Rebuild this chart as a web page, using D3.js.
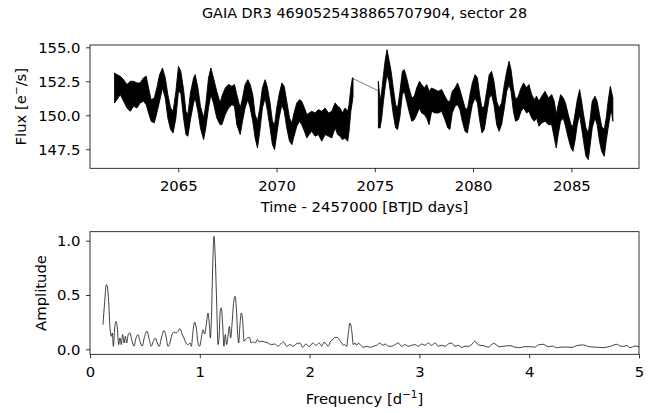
<!DOCTYPE html>
<html><head><meta charset="utf-8">
<script src="https://cdn.jsdelivr.net/npm/d3@7"></script>
<style>
body{margin:0;background:#fff}
svg{display:block}
text{font-family:"DejaVu Sans",sans-serif;fill:#000}
</style></head>
<body><svg id="c" width="660" height="413"></svg>
<script>
// ---------- light curve (band: upper / lower envelope) ----------
const lcTime=[2061.76,2061.88,2062.05,2062.22,2062.39,2062.56,2062.73,2062.90,2063.06,2063.23,2063.37,2063.49,2063.62,2063.78,2063.91,2064.05,2064.20,2064.34,2064.47,2064.61,2064.74,2064.88,2065.01,2065.13,2065.27,2065.39,2065.49,2065.62,2065.78,2065.86,2066.00,2066.13,2066.29,2066.40,2066.54,2066.66,2066.79,2066.96,2067.13,
2067.22,2067.39,2067.56,2067.73,2067.86,2067.98,2068.15,2068.27,2068.40,2068.54,2068.66,2068.79,2068.91,2069.03,2069.15,2069.28,2069.42,2069.54,2069.67,2069.79,2069.90,2070.01,2070.13,2070.27,2070.39,2070.52,2070.66,2070.78,2070.89,2071.03,2071.17,2071.28,2071.42,2071.54,2071.66,2071.79,2071.96,2072.13,2072.30,2072.47,2072.64,2072.81,
2072.98,2073.11,2073.23,2073.35,2073.49,2073.62,2073.69,2073.78,2073.86,2073.89,
2075.18,2075.27,2075.35,2075.44,2075.52,2075.62,2075.72,2075.83,2075.94,2076.06,2076.16,2076.28,2076.40,2076.50,2076.62,2076.74,2076.88,2077.01,2077.13,2077.27,2077.38,2077.52,2077.64,2077.76,2077.89,2078.06,2078.23,2078.40,
2078.57,2078.71,2078.82,2078.94,2079.08,2079.21,2079.33,2079.45,2079.59,2079.71,2079.84,2079.96,2080.10,2080.22,2080.33,2080.45,2080.57,2080.69,2080.82,2080.94,2081.06,2081.20,2081.32,2081.45,2081.59,2081.71,2081.83,2081.93,2082.05,2082.16,2082.30,2082.44,2082.57,2082.72,2082.84,2082.98,2083.11,2083.23,2083.35,2083.49,2083.66,2083.83,2084.00,
2084.13,2084.23,2084.33,2084.45,2084.59,2084.70,2084.84,2084.98,2085.08,2085.18,2085.30,2085.42,2085.52,2085.62,2085.74,2085.86,2085.96,2086.06,2086.20,2086.31,2086.43,2086.54,2086.67,2086.77,2086.87,2086.98,2087.04,2087.11];
const lcHigh=[153.11,152.99,152.87,152.62,152.26,152.50,152.50,152.38,152.38,152.75,152.87,152.01,151.15,151.27,152.01,152.99,153.48,152.75,151.52,150.54,150.29,151.76,153.60,153.23,151.89,150.29,150.05,151.64,152.75,152.99,152.01,150.66,149.80,150.78,152.75,153.48,152.75,151.76,150.91,
151.40,152.01,152.26,152.13,152.26,151.52,150.54,151.27,152.26,152.62,152.26,151.52,150.05,149.56,150.54,152.01,152.62,152.01,150.91,149.56,149.31,150.54,151.52,152.38,152.13,151.03,149.80,149.44,150.17,150.91,151.15,151.03,150.54,150.05,150.17,150.29,150.17,150.42,150.29,150.54,150.17,150.29,
150.91,150.66,150.54,150.17,150.54,150.29,150.78,152.01,152.75,152.75,
152.50,151.03,151.76,152.99,153.97,154.83,154.09,153.23,152.01,150.78,150.54,151.76,153.23,153.36,152.75,152.01,151.27,151.40,152.01,152.50,152.26,152.01,152.26,151.76,152.01,151.89,151.76,151.89,
151.40,151.03,151.03,151.76,152.01,152.38,151.89,151.27,150.54,150.42,151.52,152.38,152.99,152.75,151.52,150.54,150.66,151.76,152.99,153.23,152.50,151.03,150.54,150.91,152.26,153.23,153.97,153.36,152.01,151.15,151.40,152.01,152.38,152.01,152.26,151.52,151.15,151.40,151.03,151.40,151.76,151.27,151.52,
151.03,150.05,150.78,151.52,151.27,150.91,150.05,149.31,149.19,150.05,151.15,151.89,151.03,150.05,149.07,148.70,149.80,151.03,151.40,151.03,150.05,149.19,148.95,149.80,151.03,152.13,151.76,151.27];
const lcLow=[150.91,151.15,151.52,151.03,150.54,150.29,150.66,150.54,150.91,151.03,150.78,150.17,149.56,149.44,150.17,151.03,152.01,151.27,149.80,148.95,148.70,149.80,151.76,151.64,149.80,148.58,148.46,149.68,150.91,151.27,150.29,149.07,148.21,149.07,150.54,151.52,150.91,149.80,149.31,
149.31,150.05,150.54,150.78,150.66,149.31,148.58,149.56,150.54,151.15,150.54,149.56,148.33,147.60,148.82,150.54,151.27,150.29,149.07,147.84,147.47,148.58,149.80,150.78,150.29,149.07,148.09,147.84,148.46,149.19,149.56,149.31,148.82,148.33,148.58,148.82,148.46,148.58,148.09,148.58,148.46,148.33,
149.07,148.58,148.46,148.21,148.33,148.09,148.82,150.29,151.03,151.40,
149.07,149.07,149.80,151.03,152.01,152.99,152.50,151.27,150.05,149.07,148.95,149.93,151.52,151.76,151.03,150.29,149.56,149.68,150.05,150.54,150.17,150.05,149.80,149.31,150.29,150.17,150.17,150.29,
149.68,149.07,148.95,150.17,150.66,150.78,150.42,149.56,148.82,148.70,149.80,150.78,151.27,150.91,149.68,148.70,148.95,150.05,151.27,151.52,150.78,149.31,148.82,149.31,150.54,151.76,152.26,151.76,150.29,149.56,149.68,150.29,150.54,150.17,150.29,149.80,149.56,149.80,149.19,149.44,149.56,149.31,149.31,
148.33,147.60,148.58,149.56,149.80,149.19,148.33,147.60,147.35,148.09,149.31,150.05,149.07,148.09,146.98,146.74,147.84,149.07,149.80,149.31,148.09,147.35,146.98,148.09,149.07,150.05,150.29,149.56];
// straight segment drawn across the data gap
const gapTime=[2073.89,2075.18];
const gapFlux=[152.70,151.80];
const lcXTicks=[2065,2070,2075,2080,2085];
const lcYTicks=[147.5,150.0,152.5,155.0];

// ---------- periodogram ----------
const pgFreq=[0.118,0.134,0.149,0.158,0.170,0.182,0.194,0.203,0.213,0.225,0.237,0.249,0.261,0.273,0.285,0.297,0.310,0.322,0.334,0.349,0.364,0.383,0.401,0.419,0.437,0.455,0.474,0.498,0.519,0.540,0.558,0.577,0.595,0.613,0.631,0.650,0.674,0.692,0.710,0.728,0.747,0.765,0.783,0.801,0.820,0.838,0.856,0.874,0.892,0.911,0.923,0.938,0.953,0.968,0.984,0.999,1.014,1.029,1.044,1.059,1.075,1.087,1.096,1.105,1.117,1.129,1.141,1.154,1.166,1.175,1.187,1.196,1.208,1.220,1.232,1.245,1.257,1.269,1.281,1.293,1.309,1.321,1.333,1.345,1.354,1.366,1.378,1.390,1.403,1.415,1.433,1.451,1.469,1.488,1.506,1.524,1.542,1.560,1.591,1.621,1.651,1.682,1.712,
1.730,1.761,1.791,1.821,1.852,1.882,1.912,1.937,1.967,1.998,2.028,2.058,2.088,2.109,2.131,2.149,2.170,2.192,2.210,2.231,2.252,2.271,2.292,2.307,2.319,2.337,2.353,2.368,2.383,2.398,2.413,2.429,2.444,2.465,2.489,2.520,2.550,2.580,2.611,2.641,2.665,2.690,2.717,2.747,2.778,2.808,2.838,2.869,2.899,2.930,2.960,2.990,3.021,3.051,3.081,3.111,3.142,3.172,3.202,3.233,3.263,3.293,3.324,3.354,3.384,3.415,3.445,3.475,3.506,3.527,3.551,3.580,3.630,3.675,3.730,3.780,3.825,3.870,3.916,3.960,4.007,4.050,4.083,4.128,4.174,4.210,4.250,4.300,4.341,4.390,4.432,4.493,4.540,4.584,4.630,4.676,4.736,4.797,4.830,4.857,4.890,4.918,4.964,5.000];
const pgAmp=[0.227,0.44,0.595,0.58,0.44,0.196,0.12,0.15,0.028,0.196,0.257,0.196,0.043,0.104,0.043,0.135,0.058,0.12,0.058,0.141,0.15,0.074,0.028,0.104,0.135,0.074,0.028,0.12,0.166,0.089,0.028,0.074,0.104,0.058,0.028,0.104,0.172,0.12,0.028,0.058,0.135,0.16,0.15,0.166,0.19,0.141,0.104,0.058,0.043,0.058,0.028,0.166,0.25,0.196,0.058,0.028,0.104,0.18,0.141,0.227,0.334,0.227,0.104,0.257,0.748,1.04,0.84,0.41,0.043,0.104,0.365,0.38,0.227,0.028,0.135,0.043,0.12,0.21,0.104,0.227,0.44,0.488,0.38,0.135,0.058,0.227,0.334,0.273,0.074,0.089,0.104,0.11,0.058,0.068,0.058,0.089,0.068,0.074,0.068,0.058,0.043,0.049,0.028,
0.043,0.068,0.028,0.043,0.028,0.052,0.058,0.018,0.049,0.025,0.058,0.037,0.058,0.028,0.064,0.052,0.028,0.074,0.089,0.11,0.11,0.089,0.058,0.037,0.043,0.028,0.15,0.242,0.18,0.043,0.058,0.037,0.058,0.037,0.018,0.028,0.018,0.028,0.037,0.058,0.037,0.049,0.028,0.028,0.043,0.058,0.028,0.043,0.028,0.037,0.043,0.028,0.049,0.037,0.058,0.037,0.058,0.028,0.037,0.028,0.049,0.058,0.028,0.037,0.018,0.028,0.028,0.043,0.074,0.049,0.037,0.034,0.02,0.055,0.024,0.03,0.034,0.02,0.015,0.025,0.024,0.02,0.04,0.046,0.024,0.03,0.015,0.02,0.021,0.018,0.034,0.04,0.025,0.021,0.018,0.015,0.027,0.046,0.03,0.027,0.035,0.015,0.03,0.024];
const pgXTicks=[0,1,2,3,4,5];
const pgYTicks=[0.0,0.5,1.0];

const titleText="GAIA DR3 4690525438865707904, sector 28";

// ---------- layout ----------
const svg=d3.select("#c");
svg.append("rect").attr("width",660).attr("height",413).attr("fill","#fff");
const L=90,R=639;
const top1=45,bot1=168.3,top2=231.7,bot2=354.3;
const FS=14.8;

const x1=d3.scaleLinear().domain([2060.51,2088.44]).range([L,R]);
const y1=d3.scaleLinear().domain([146.10,155.17]).range([bot1,top1]);
const x2=d3.scaleLinear().domain([0,5]).range([L,R]);
const y2=d3.scaleLinear().domain([-0.046,1.083]).range([bot2,top2]);

const defs=svg.append("defs");
defs.append("clipPath").attr("id","cp1").append("rect").attr("x",L).attr("y",top1).attr("width",R-L).attr("height",bot1-top1);
defs.append("clipPath").attr("id","cp2").append("rect").attr("x",L).attr("y",top2).attr("width",R-L).attr("height",bot2-top2);

// light curve: split into contiguous segments at the data gap
const lc=lcTime.map((t,i)=>({t,h:lcHigh[i],l:lcLow[i]}));
const segs=[];let cur=[];
lc.forEach((d,i)=>{ if(i>0 && d.t-lc[i-1].t>0.5){segs.push(cur);cur=[];} cur.push(d);});
segs.push(cur);
const g1=svg.append("g").attr("clip-path","url(#cp1)");
const area=d3.area().x(d=>x1(d.t)).y0(d=>y1(d.l)).y1(d=>y1(d.h));
segs.forEach(s=>{
  g1.append("path").attr("d",area(s)).attr("fill","#000").attr("stroke","#000").attr("stroke-width",0.9).attr("stroke-linejoin","miter");
});
g1.append("path").attr("d",d3.line()(gapTime.map((t,i)=>[x1(t),y1(gapFlux[i])])))
  .attr("fill","none").attr("stroke","#000").attr("stroke-width",0.5);

// periodogram
const g2=svg.append("g").attr("clip-path","url(#cp2)");
g2.append("path").attr("d",d3.line().curve(d3.curveMonotoneX).x((d,i)=>x2(pgFreq[i])).y(d=>y2(d))(pgAmp))
  .attr("fill","none").attr("stroke","#000").attr("stroke-width",0.75);

// axes
function styleAxis(g){
  g.select(".domain").remove();
  g.selectAll(".tick line").attr("stroke","#000").attr("stroke-width",0.8);
  g.selectAll(".tick text").attr("font-size",FS).attr("font-family","DejaVu Sans").attr("fill","#000");
}
svg.append("g").attr("transform",`translate(0,${bot1})`)
  .call(d3.axisBottom(x1).tickValues(lcXTicks).tickFormat(d3.format("d")).tickSize(4).tickPadding(8.3)).call(styleAxis);
svg.append("g").attr("transform",`translate(${L},0)`)
  .call(d3.axisLeft(y1).tickValues(lcYTicks).tickFormat(d3.format(".1f")).tickSize(4).tickPadding(5.5)).call(styleAxis);
svg.append("g").attr("transform",`translate(0,${bot2})`)
  .call(d3.axisBottom(x2).tickValues(pgXTicks).tickFormat(d3.format("d")).tickSize(4).tickPadding(8.3)).call(styleAxis);
svg.append("g").attr("transform",`translate(${L},0)`)
  .call(d3.axisLeft(y2).tickValues(pgYTicks).tickFormat(d3.format(".1f")).tickSize(4).tickPadding(5.5)).call(styleAxis);

// frames
[[top1,bot1],[top2,bot2]].forEach(([t,b])=>{
  svg.append("rect").attr("x",L).attr("y",t).attr("width",R-L).attr("height",b-t)
    .attr("fill","none").attr("stroke","#000").attr("stroke-width",0.8);
});

// title
svg.append("text").attr("x",(L+R)/2).attr("y",17.5).attr("text-anchor","middle").attr("font-size",14.4).text(titleText);

// x labels
svg.append("text").attr("x",(L+R)/2).attr("y",211.5).attr("text-anchor","middle").attr("font-size",FS).text("Time - 2457000 [BTJD days]");
const fl=svg.append("text").attr("x",(L+R)/2).attr("y",403.5).attr("text-anchor","middle").attr("font-size",FS);
fl.append("tspan").text("Frequency [d");
fl.append("tspan").attr("font-size",FS*0.7).attr("dy",-6).text("\u22121");
fl.append("tspan").attr("dy",6).text("]");

// y labels
const yl1=svg.append("text").attr("transform",`translate(26,${(top1+bot1)/2}) rotate(-90)`).attr("text-anchor","middle").attr("font-size",FS);
yl1.append("tspan").text("Flux [e");
yl1.append("tspan").attr("font-size",FS*0.7).attr("dy",-6).text("\u2212");
yl1.append("tspan").attr("dy",6).text("/s]");
svg.append("text").attr("transform",`translate(46,${(top2+bot2)/2}) rotate(-90)`).attr("text-anchor","middle").attr("font-size",FS).text("Amplitude");
</script></body></html>
